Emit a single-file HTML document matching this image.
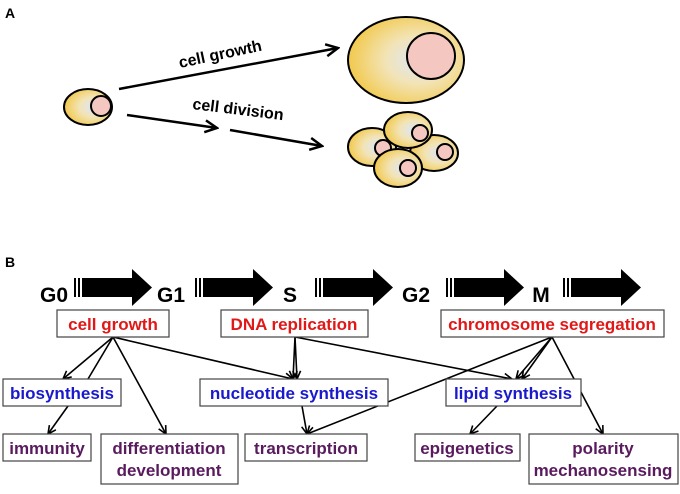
<!DOCTYPE html>
<html><head><meta charset="utf-8"><style>
html,body{margin:0;padding:0;background:#fff;}
svg{display:block;font-family:"Liberation Sans",sans-serif;}
.bx{fill:#fff;stroke:#444;stroke-width:1.2}
.t{font-size:17px;font-weight:bold;text-anchor:middle}
.r{fill:#e01818}.b{fill:#1a1acc}.p{fill:#5a1a5e}
.ph{font-size:21px;font-weight:bold;text-anchor:middle}
.ln{stroke:#000;stroke-width:1.6;fill:none;marker-end:url(#ah)}
</style></head><body>
<svg width="680" height="494" viewBox="0 0 680 494">
<defs>
<marker id="ah" markerWidth="10" markerHeight="10" refX="9" refY="5" orient="auto" markerUnits="userSpaceOnUse"><path d="M1,1 L9,5 L1,9" fill="none" stroke="#000" stroke-width="1.6"/></marker>
<marker id="ah2" markerWidth="16" markerHeight="16" refX="14" refY="8" orient="auto" markerUnits="userSpaceOnUse"><path d="M2,2 L14,8 L2,14" fill="none" stroke="#000" stroke-width="2.5"/></marker>
<radialGradient id="cg" cx="0.6" cy="0.5" r="0.6"><stop offset="0" stop-color="#dde6f4"/><stop offset="0.45" stop-color="#f2e4b8"/><stop offset="1" stop-color="#f2c94c"/></radialGradient>
<g id="arr"><rect x="0" y="11" width="2" height="19" fill="#000"/><rect x="4" y="11" width="2" height="19" fill="#000"/><rect x="8" y="11" width="52" height="19" fill="#000"/><path d="M58,2 L78,20.5 L58,39 Z" fill="#000"/></g>
</defs>
<text x="5" y="18" font-size="14" font-weight="bold">A</text>
<text x="5" y="267" font-size="14" font-weight="bold">B</text>
<!-- Part A -->
<ellipse cx="88" cy="107" rx="24" ry="18" fill="url(#cg)" stroke="#000" stroke-width="2"/>
<circle cx="101" cy="106" r="10" fill="#f4c8c0" stroke="#000" stroke-width="2"/>
<ellipse cx="406" cy="60" rx="58" ry="43" fill="url(#cg)" stroke="#000" stroke-width="2"/>
<ellipse cx="431" cy="56" rx="24" ry="23" fill="#f4c8c0" stroke="#000" stroke-width="2"/>
<g stroke="#000" stroke-width="2">
<ellipse cx="372" cy="147" rx="24" ry="19" fill="url(#cg)"/><circle cx="383" cy="148" r="8" fill="#f4c8c0"/>
<ellipse cx="434" cy="153" rx="24" ry="18" fill="url(#cg)"/><circle cx="445" cy="152" r="8" fill="#f4c8c0"/>
<ellipse cx="398" cy="168" rx="24" ry="19" fill="url(#cg)"/><circle cx="408" cy="168" r="8" fill="#f4c8c0"/>
<ellipse cx="408" cy="130" rx="24" ry="18" fill="url(#cg)"/><circle cx="420" cy="133" r="8" fill="#f4c8c0"/>
</g>
<line x1="119" y1="89" x2="338" y2="48" stroke="#000" stroke-width="2.5" marker-end="url(#ah2)"/>
<line x1="127" y1="115" x2="217" y2="128" stroke="#000" stroke-width="2.5" marker-end="url(#ah2)"/>
<line x1="230" y1="130" x2="322" y2="146" stroke="#000" stroke-width="2.5" marker-end="url(#ah2)"/>
<text x="0" y="0" font-size="16" font-weight="bold" transform="translate(180,68) rotate(-12)">cell growth</text>
<text x="0" y="0" font-size="16" font-weight="bold" transform="translate(192,109) rotate(7)">cell division</text>
<!-- Part B phase arrows -->
<text class="ph" x="54" y="302">G0</text>
<use href="#arr" x="74" y="267"/>
<text class="ph" x="171" y="302">G1</text>
<use href="#arr" x="195" y="267"/>
<text class="ph" x="290" y="302">S</text>
<use href="#arr" x="315" y="267"/>
<text class="ph" x="416" y="302">G2</text>
<use href="#arr" x="446" y="267"/>
<text class="ph" x="541" y="302">M</text>
<use href="#arr" x="563" y="267"/>
<!-- connectors -->
<line class="ln" x1="113" y1="337" x2="63" y2="379"/>
<line x1="113" y1="337" x2="88" y2="379" stroke="#000" stroke-width="1.6"/>
<line class="ln" x1="113" y1="337" x2="166" y2="434"/>
<line class="ln" x1="113" y1="337" x2="293" y2="379"/>
<line class="ln" x1="68" y1="406" x2="48" y2="434"/>
<line class="ln" x1="295" y1="337" x2="293" y2="379"/>
<line class="ln" x1="295" y1="337" x2="297" y2="379"/>
<line class="ln" x1="295" y1="337" x2="512" y2="379"/>
<line class="ln" x1="552" y1="337" x2="516" y2="379"/>
<line class="ln" x1="552" y1="337" x2="522" y2="379"/>
<line class="ln" x1="552" y1="337" x2="307" y2="434"/>
<line class="ln" x1="552" y1="337" x2="603" y2="434"/>
<line class="ln" x1="302" y1="406" x2="307" y2="434"/>
<line class="ln" x1="497" y1="406" x2="470" y2="434"/>
<!-- boxes -->
<rect class="bx" x="57" y="310" width="112" height="27"/><text class="t r" x="113" y="330">cell growth</text>
<rect class="bx" x="221" y="310" width="147" height="27"/><text class="t r" x="294" y="330">DNA replication</text>
<rect class="bx" x="441" y="310" width="223" height="27"/><text class="t r" x="552" y="330">chromosome segregation</text>
<rect class="bx" x="3" y="379" width="118" height="27"/><text class="t b" x="62" y="399">biosynthesis</text>
<rect class="bx" x="200" y="379" width="188" height="27"/><text class="t b" x="294" y="399">nucleotide synthesis</text>
<rect class="bx" x="446" y="379" width="135" height="27"/><text class="t b" x="513" y="399">lipid synthesis</text>
<rect class="bx" x="3" y="434" width="88" height="27"/><text class="t p" x="47" y="454">immunity</text>
<rect class="bx" x="101" y="434" width="137" height="50"/><text class="t p" x="169" y="454">differentiation</text><text class="t p" x="169" y="476">development</text>
<rect class="bx" x="245" y="434" width="122" height="27"/><text class="t p" x="306" y="454">transcription</text>
<rect class="bx" x="415" y="434" width="105" height="27"/><text class="t p" x="467" y="454">epigenetics</text>
<rect class="bx" x="529" y="434" width="149" height="50"/><text class="t p" x="603" y="454">polarity</text><text class="t p" x="603" y="476">mechanosensing</text>
</svg>
</body></html>
